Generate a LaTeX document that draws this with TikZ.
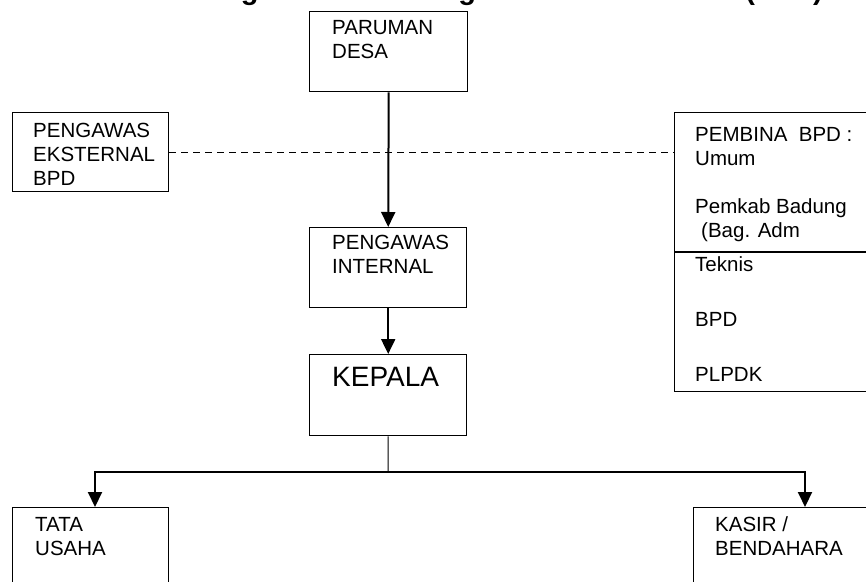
\documentclass[tikz,border=0pt]{standalone}
\usepackage{fontspec}
\setmainfont{Liberation Sans}
\usetikzlibrary{arrows.meta}
\begin{document}
\begin{tikzpicture}[x=1pt,y=-1pt,
  box/.style={draw, line width=1.4pt, rectangle, inner sep=0pt, anchor=north west},
  boxtext/.style={anchor=north west, inner sep=0pt, align=left,
    font=\fontsize{20.5}{24}\selectfont},
  flow/.style={line width=2pt, -{Triangle[length=15pt,width=14pt]}},
  flowboth/.style={line width=2pt, line join=miter,
    {Triangle[length=15pt,width=14pt]}-{Triangle[length=15pt,width=14pt]}},
  link/.style={line width=1pt},
  dashlink/.style={line width=1pt, dash pattern=on 7pt off 5pt}]

\useasboundingbox (0,0) rectangle (866,581);
\clip (0,0) rectangle (866,581);

% heading (runs off the top of the page)
\node[anchor=base west, inner sep=0pt, font=\fontsize{29}{34}\selectfont\bfseries]
  (title) at (86,-1) {Struktur Organisasi Lembaga Perkreditan Desa (LPD)};

% boxes
\node[box, minimum width=158pt, minimum height=80pt] (paruman) at (309,11) {};
\node[box, minimum width=156pt, minimum height=79pt] (ext) at (12,112) {};
\node[box, minimum width=157pt, minimum height=80pt] (int) at (309,227) {};
\node[box, minimum width=157pt, minimum height=81pt] (kepala) at (309,354) {};
\node[box, minimum width=206pt, minimum height=279pt] (pembina) at (674,112) {};
\node[box, minimum width=156pt, minimum height=90pt] (tata) at (12,507) {};
\node[box, minimum width=190pt, minimum height=90pt] (kasir) at (693,507) {};

% divider inside the supervisor box
\coordinate (divL) at (674,252);
\draw[line width=1.4pt] (divL) -- (divL -| pembina.east);

% texts
\node[boxtext] (tparuman) at ([shift={(23,9)}]paruman.north west) {PARUMAN\\DESA};
\node[boxtext] (text) at ([shift={(21,10.7)}]ext.north west) {PENGAWAS\\EKSTERNAL\\BPD};
\node[boxtext] (tint) at ([shift={(23,8)}]int.north west) {PENGAWAS\\INTERNAL};
\node[boxtext, font=\fontsize{28}{32}\selectfont] (tkepala)
  at ([shift={(23,12.7)}]kepala.north west) {KEPALA};
\node[boxtext] (tpembina) at ([shift={(21,14.7)}]pembina.north west)
  {PEMBINA\ \ BPD :\\Umum\\[24pt]Pemkab Badung\\\hspace*{6pt}(Bag. Adm};
\node[boxtext, font=\fontsize{20.5}{27.5}\selectfont] (tteknis)
  at ([shift={(21,4.7)}]divL) {Teknis\\[27.5pt]BPD\\[27.5pt]PLPDK};
\node[boxtext] (ttata) at ([shift={(23,9.7)}]tata.north west) {TATA\\USAHA};
\node[boxtext] (tkasir) at ([shift={(22,9.7)}]kasir.north west) {KASIR /\\BENDAHARA};

% connectors
\draw[flow] (paruman.south) -- (int.north);
\draw[flow] (int.south) -- (kepala.north);
\draw[dashlink] (ext.east) -- (ext.east -| pembina.west);

\coordinate (fork) at (388,472);
\coordinate (forkL) at (95,472);
\coordinate (forkR) at (805,472);
\draw[link] (kepala.south) -- (fork);
\draw[flowboth] (forkL |- tata.north) -- (forkL) -- (forkR) -- (forkR |- kasir.north);

\end{tikzpicture}
\end{document}
